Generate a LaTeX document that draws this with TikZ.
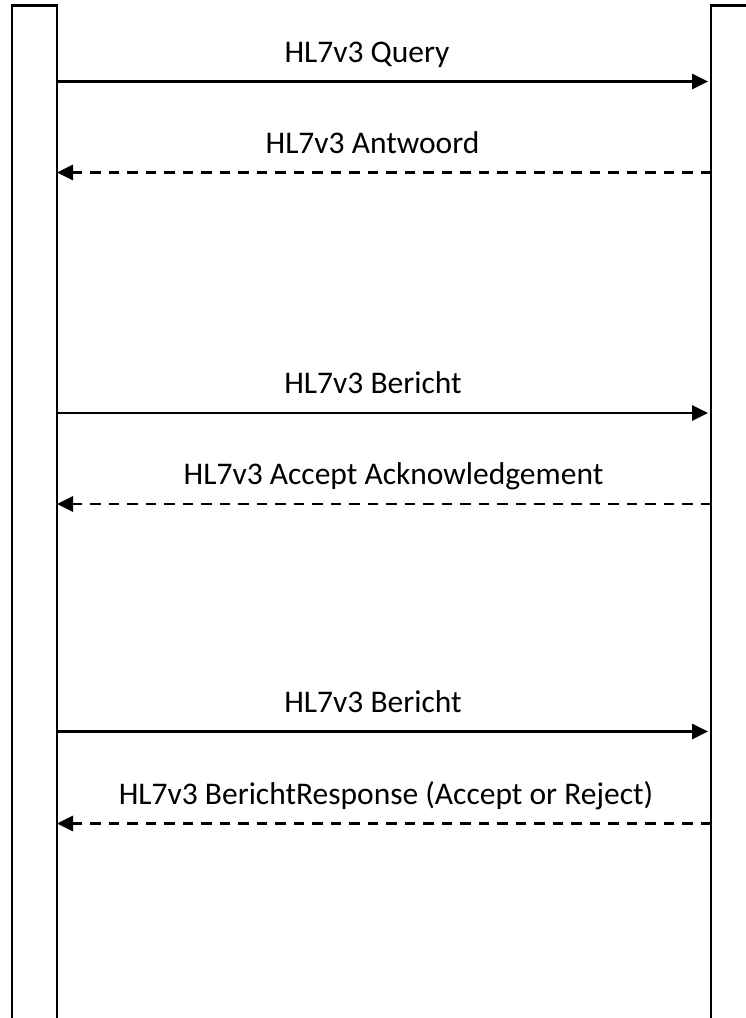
\documentclass[tikz,border=0pt]{standalone}
\usepackage{fontspec}
\setmainfont{Carlito}
\usetikzlibrary{arrows.meta}
\begin{document}
\begin{tikzpicture}[x=1pt,y=-1pt,
  lifeline/.style={draw=black,line width=2.4pt},
  msg/.style={line width=2.8pt,-{Triangle[length=16pt,width=15pt]}},
  reply/.style={msg,dash pattern=on 10.5pt off 8pt},
  lbl/.style={anchor=base,inner sep=0pt,font=\fontsize{31.5}{36}\selectfont}]
\useasboundingbox (0,0) rectangle (745,1018);
% the two lifelines, running off the page
\draw[lifeline] (12,1030) -- (12,5.5) -- (57,5.5) -- (57,1030);
\draw[lifeline] (711,1030) -- (711,5.5) -- (760,5.5);
% anchor points on the lifelines
\foreach \n/\y in {a/81.5,b/172.5,c/413,d/504,e/731.5,f/823.5}{
  \coordinate (L\n) at (57,\y);
  \coordinate (R\n) at (711,\y);
}
% messages
\draw[msg,shorten >=3pt] (La) -- (Ra);
\draw[reply] (Rb) -- (Lb);
\draw[msg,shorten >=3pt] (Lc) -- (Rc);
\draw[reply] (Rd) -- (Ld);
\draw[msg,shorten >=3pt] (Le) -- (Re);
\draw[reply] (Rf) -- (Lf);
% labels
\node[lbl] (ta) at (367,62) {HL7v3 Query};
\node[lbl] (tb) at (372.5,153) {HL7v3 Antwoord};
\node[lbl] (tc) at (373,393.5) {HL7v3 Bericht};
\node[lbl] (td) at (393.5,484.5) {HL7v3 Accept Acknowledgement};
\node[lbl] (te) at (373,712) {HL7v3 Bericht};
\node[lbl] (tf) at (386,804) {HL7v3 BerichtResponse (Accept or Reject)};
\end{tikzpicture}
\end{document}
